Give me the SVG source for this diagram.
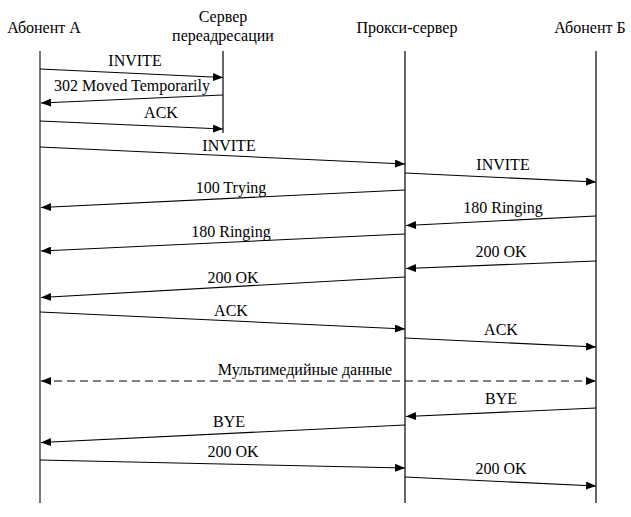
<svg xmlns="http://www.w3.org/2000/svg" width="631" height="517" viewBox="0 0 631 517">
<style>
text{font-family:"Liberation Serif","Times New Roman",serif;font-size:16px;fill:#000;text-anchor:middle}
.life{stroke:#000;stroke-width:1.2;fill:none}
.lifeA{stroke:#7a7a7a;stroke-width:2;fill:none}
.msg{stroke:#000;stroke-width:1.1;fill:none;marker-end:url(#ah)}
.dash{stroke:#000;stroke-width:1.1;fill:none;stroke-dasharray:8,5;marker-end:url(#ah);marker-start:url(#ahs)}
</style>
<defs>
<marker id="ah" viewBox="0 0 10 8" refX="10" refY="4" markerWidth="10" markerHeight="8" markerUnits="userSpaceOnUse" orient="auto"><path d="M0,0L10,4L0,8z" fill="#000"/></marker>
<marker id="ahs" viewBox="0 0 10 8" refX="0" refY="4" markerWidth="10" markerHeight="8" markerUnits="userSpaceOnUse" orient="auto"><path d="M10,0L0,4L10,8z" fill="#000"/></marker>
</defs>
<rect width="631" height="517" fill="#fff"/>
<g id="nodeA"><text x="44" y="33">Абонент А</text><line class="lifeA" x1="40" y1="51" x2="40" y2="503"/></g>
<g id="nodeRedirect"><text x="223" y="22">Сервер</text><text x="223" y="41">переадресации</text><line class="life" x1="223" y1="51" x2="223" y2="133"/></g>
<g id="nodeProxy"><text x="407" y="33">Прокси-сервер</text><line class="life" x1="405" y1="51" x2="405" y2="503"/></g>
<g id="nodeB"><text x="590" y="33">Абонент Б</text><line class="life" x1="596" y1="51" x2="596" y2="503"/></g>
<g id="connectors">
<line class="msg" x1="40" y1="69" x2="223" y2="77.5"/><text x="135" y="66">INVITE</text>
<line class="msg" x1="223" y1="95" x2="41" y2="103"/><text x="132" y="91">302 Moved Temporarily</text>
<line class="msg" x1="40" y1="121" x2="223" y2="129"/><text x="161" y="118">ACK</text>
<line class="msg" x1="40" y1="147" x2="405" y2="164"/><text x="229" y="151">INVITE</text>
<line class="msg" x1="405" y1="173" x2="596" y2="182"/><text x="503" y="170">INVITE</text>
<line class="msg" x1="405" y1="190" x2="41" y2="207.5"/><text x="231" y="193">100 Trying</text>
<line class="msg" x1="596" y1="216" x2="406" y2="225.5"/><text x="503" y="213">180 Ringing</text>
<line class="msg" x1="405" y1="234" x2="41" y2="251"/><text x="231" y="237">180 Ringing</text>
<line class="msg" x1="596" y1="261" x2="406" y2="268.5"/><text x="501" y="257">200 OK</text>
<line class="msg" x1="405" y1="277" x2="41" y2="297.5"/><text x="233" y="283">200 OK</text>
<line class="msg" x1="40" y1="312" x2="405" y2="329"/><text x="231" y="316">ACK</text>
<line class="msg" x1="405" y1="338" x2="596" y2="347"/><text x="501" y="335">ACK</text>
<line class="dash" x1="41" y1="381" x2="596" y2="381"/><text x="305" y="375">Мультимедийные данные</text>
<line class="msg" x1="596" y1="408" x2="406" y2="416.5"/><text x="501" y="404">BYE</text>
<line class="msg" x1="405" y1="425" x2="41" y2="442.5"/><text x="229" y="427">BYE</text>
<line class="msg" x1="40" y1="460" x2="405" y2="468"/><text x="233" y="457">200 OK</text>
<line class="msg" x1="405" y1="477" x2="596" y2="486"/><text x="501" y="474">200 OK</text>
</g>
</svg>
